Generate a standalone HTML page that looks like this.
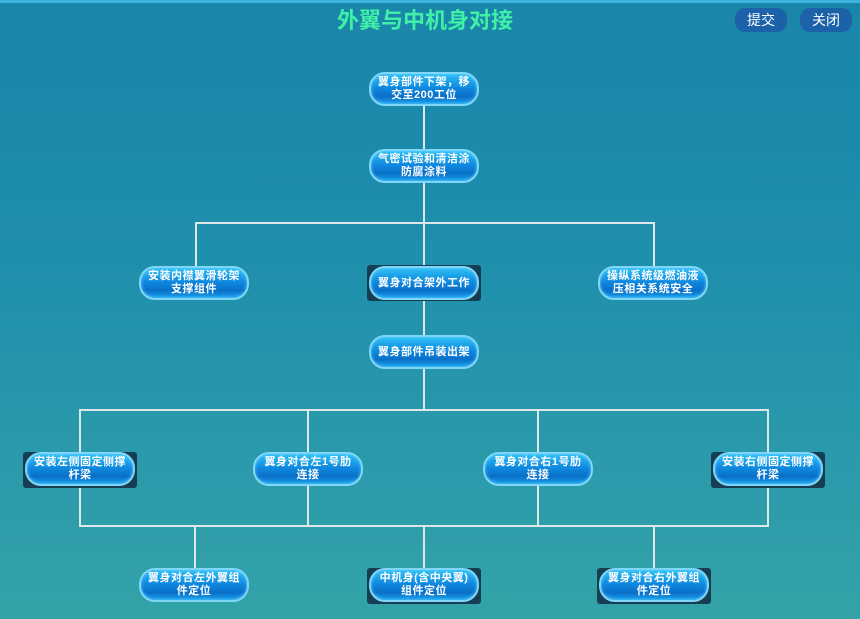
<!DOCTYPE html>
<html><head><meta charset="utf-8"><style>
html,body{margin:0;padding:0}
body{width:860px;height:619px;overflow:hidden;position:relative;
background:linear-gradient(180deg,#1985aa 0%,#1e8fac 40%,#2b9aab 75%,#33a3a9 100%);
font-family:"Liberation Sans","Noto Sans CJK SC",sans-serif}
.top{position:absolute;left:0;top:0;width:860px;height:3px;background:#3fb3e0}
.title{position:absolute;left:300px;top:6px;width:250px;text-align:center;color:#3ff0a6;font-size:22px;font-weight:bold;line-height:30px}
.btn{position:absolute;top:8px;width:52px;height:24px;border-radius:10px;background:#1b62a8;color:#fff;font-size:14px;line-height:24px;text-align:center}
.l{position:absolute;background:#dfe6ea}
.back{position:absolute;background:#163e52;border-radius:3px}
.n{position:absolute;width:106px;height:30px;border-radius:16px;border:2px solid #7fd6f6;
background:linear-gradient(180deg,#2fc0f6 0%,#0f8ae0 45%,#0a6fc8 75%,#1aa0ec 100%);
box-shadow:0 0 3px #5fd0ff inset;color:#fff;font-size:11px;font-weight:bold;line-height:13px;text-align:center;display:flex;align-items:center;justify-content:center;letter-spacing:0.5px}
</style></head><body>
<div class="top"></div>
<div class="title">外翼与中机身对接</div>
<div class="btn" style="left:735px">提交</div>
<div class="btn" style="left:800px">关闭</div>

<div class="l" style="left:423px;top:104px;width:2px;height:48px"></div>
<div class="l" style="left:423px;top:182px;width:2px;height:42px"></div>
<div class="l" style="left:195px;top:222px;width:460px;height:2px"></div>
<div class="l" style="left:195px;top:222px;width:2px;height:46px"></div>
<div class="l" style="left:653px;top:222px;width:2px;height:46px"></div>
<div class="l" style="left:423px;top:222px;width:2px;height:46px"></div>
<div class="l" style="left:423px;top:299px;width:2px;height:38px"></div>
<div class="l" style="left:423px;top:368px;width:2px;height:43px"></div>
<div class="l" style="left:79px;top:409px;width:690px;height:2px"></div>
<div class="l" style="left:79px;top:409px;width:2px;height:45px"></div>
<div class="l" style="left:307px;top:409px;width:2px;height:45px"></div>
<div class="l" style="left:537px;top:409px;width:2px;height:45px"></div>
<div class="l" style="left:767px;top:409px;width:2px;height:45px"></div>
<div class="l" style="left:79px;top:485px;width:2px;height:42px"></div>
<div class="l" style="left:307px;top:485px;width:2px;height:42px"></div>
<div class="l" style="left:537px;top:485px;width:2px;height:42px"></div>
<div class="l" style="left:767px;top:485px;width:2px;height:42px"></div>
<div class="l" style="left:79px;top:525px;width:690px;height:2px"></div>
<div class="l" style="left:194px;top:525px;width:2px;height:45px"></div>
<div class="l" style="left:423px;top:525px;width:2px;height:45px"></div>
<div class="l" style="left:653px;top:525px;width:2px;height:45px"></div>

<div class="back" style="left:367px;top:265px;width:114px;height:36px"></div>
<div class="back" style="left:23px;top:452px;width:114px;height:36px"></div>
<div class="back" style="left:711px;top:452px;width:114px;height:36px"></div>
<div class="back" style="left:367px;top:568px;width:114px;height:36px"></div>
<div class="back" style="left:597px;top:568px;width:114px;height:36px"></div>

<div class="n" style="left:369px;top:72px">翼身部件下架，移<br>交至200工位</div>
<div class="n" style="left:369px;top:149px">气密试验和清洁涂<br>防腐涂料</div>
<div class="n" style="left:139px;top:266px">安装内襟翼滑轮架<br>支撑组件</div>
<div class="n" style="left:369px;top:266px">翼身对合架外工作</div>
<div class="n" style="left:598px;top:266px">操纵系统级燃油液<br>压相关系统安全</div>
<div class="n" style="left:369px;top:335px">翼身部件吊装出架</div>
<div class="n" style="left:25px;top:452px">安装左侧固定侧撑<br>杆梁</div>
<div class="n" style="left:253px;top:452px">翼身对合左1号肋<br>连接</div>
<div class="n" style="left:483px;top:452px">翼身对合右1号肋<br>连接</div>
<div class="n" style="left:713px;top:452px">安装右侧固定侧撑<br>杆梁</div>
<div class="n" style="left:139px;top:568px">翼身对合左外翼组<br>件定位</div>
<div class="n" style="left:369px;top:568px">中机身(含中央翼)<br>组件定位</div>
<div class="n" style="left:599px;top:568px">翼身对合右外翼组<br>件定位</div>
</body></html>
